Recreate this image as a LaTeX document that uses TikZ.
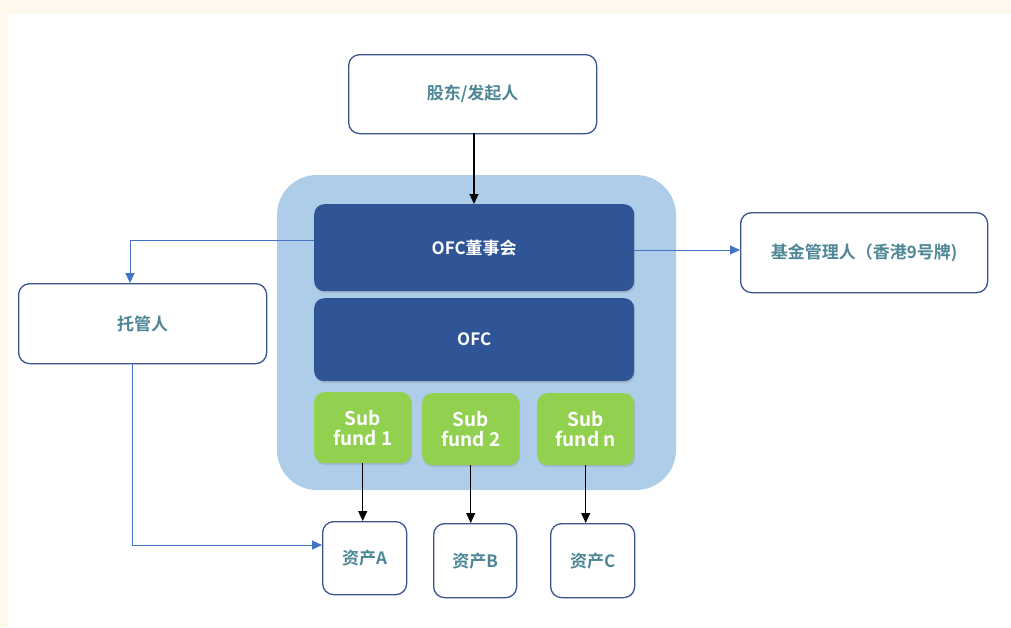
\documentclass[tikz,border=0pt]{standalone}
\usepackage{fontspec}
\setmainfont{Noto Sans CJK SC}[BoldFont={Noto Sans CJK SC Bold}]
\usetikzlibrary{arrows.meta,shadows}
\definecolor{cream}{HTML}{FEF9EC}
\definecolor{darkblue}{HTML}{2F5597}
\definecolor{lightblue}{HTML}{AECDE9}
\definecolor{green}{HTML}{92D050}
\definecolor{navy}{HTML}{3A5490}
\definecolor{tealtext}{HTML}{4D8796}
\definecolor{linkblue}{HTML}{4472C4}
\tikzset{
  x=1pt,y=-1pt,
  whitebox/.style={draw=navy,line width=1.3pt,fill=white,rounded corners=11pt,
    text=tealtext,font=\bfseries\fontsize{17}{20}\selectfont,anchor=north west,inner sep=0pt},
  darkbox/.style={fill=darkblue,rounded corners=10pt,text=white,
    font=\bfseries\fontsize{17}{20}\selectfont,anchor=north west,inner sep=0pt,
    drop shadow={shadow xshift=1pt,shadow yshift=-2pt,opacity=0.25}},
  greenbox/.style={fill=green,rounded corners=10pt,text=white,
    font=\bfseries\fontsize{19}{20}\selectfont,anchor=north west,inner sep=0pt,align=center,
    drop shadow={shadow xshift=1pt,shadow yshift=-2pt,opacity=0.25}},
  blackarrow/.style={draw=black,line width=1.1pt,-{Triangle[length=10pt,width=9pt]}},
  bluearrow/.style={draw=linkblue,line width=1pt,-{Triangle[length=10pt,width=9pt]}},
}
\begin{document}
\begin{tikzpicture}
\useasboundingbox (0,0) rectangle (1011,627);
\fill[cream] (0,0) rectangle (1011,627);
\fill[white] (8,14) rectangle (1011,627);
% container
\fill[lightblue,rounded corners=40pt] (277,175) rectangle (676,490);
% nodes
\node[whitebox,minimum width=248pt,minimum height=79pt] (sh) at (348,54) {股东/发起人};
\node[darkbox,minimum width=320pt,minimum height=87pt] (board) at (314,204) {OFC董事会};
\node[darkbox,minimum width=320pt,minimum height=83pt] (ofc) at (314,298) {OFC};
\node[greenbox,minimum width=97pt,minimum height=71pt] (sf1) at (314,392) {Sub\\fund 1};
\node[greenbox,minimum width=97pt,minimum height=72pt] (sf2) at (422,393) {Sub\\fund 2};
\node[greenbox,minimum width=97pt,minimum height=72pt] (sfn) at (537,393) {Sub\\fund n};
\node[whitebox,minimum width=248pt,minimum height=80pt] (cust) at (18,283) {托管人};
\node[whitebox,minimum width=247pt,minimum height=80pt] (mgr) at (740,212) {基金管理人（香港9号牌)};
\node[whitebox,minimum width=84pt,minimum height=73pt] (aa) at (322,521) {资产A};
\node[whitebox,minimum width=83pt,minimum height=74pt] (ab) at (433,523) {资产B};
\node[whitebox,minimum width=84pt,minimum height=74pt] (ac) at (550,523) {资产C};
% helper coordinates
\coordinate (top) at (474,133);
\coordinate (bl) at (314,240);
\coordinate (bend1) at (130,240);
\coordinate (br) at (634,250);
\coordinate (cb) at (132,363);
\coordinate (ca) at (132,545);
\coordinate (aw) at (322,545);
% connectors
\draw[blackarrow] (top) -- (top |- board.north);
\draw[blackarrow] (sf1.south) -- (sf1.south |- aa.north);
\draw[blackarrow] (sf2.south) -- (sf2.south |- ab.north);
\draw[blackarrow] (sfn.south) -- (sfn.south |- ac.north);
\draw[bluearrow] (bl) -- (bend1) -- (bend1 |- cust.north);
\draw[bluearrow] (br) -- (br -| mgr.west);
\draw[bluearrow] (cb) -- (ca) -- (aw);
\end{tikzpicture}
\end{document}
